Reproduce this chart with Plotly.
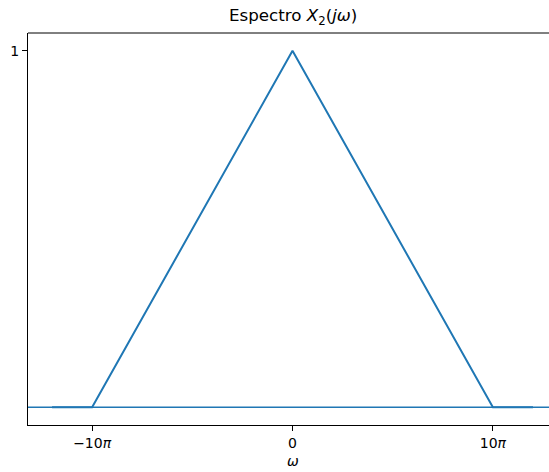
import numpy as np
import plotly.graph_objects as go

PI = np.pi
omega = [-12 * PI, -10 * PI, 0, 10 * PI, 12 * PI]
spectrum = [0, 0, 1, 0, 0]
xtick_vals = [-10 * PI, 0, 10 * PI]
xtick_text = ["\u221210<i>\u03c0</i>", "0", "10<i>\u03c0</i>"]
ytick_vals = [1]
ytick_text = ["1"]

W, H = 549, 472
L, R, T, B = 28, 0, 33, 47

fig = go.Figure()
fig.add_trace(go.Scatter(x=omega, y=spectrum, mode="lines",
                         line=dict(color="#1f77b4", width=2), showlegend=False,
                         hoverinfo="skip"))

# axhline at y=0
fig.add_shape(type="line", xref="paper", yref="y", x0=0, x1=1, y0=0, y1=0,
              line=dict(color="#1f77b4", width=1.5))
# top spine
fig.add_shape(type="line", xref="paper", yref="paper", x0=0, x1=1, y0=1, y1=1,
              line=dict(color="black", width=1))

font = "DejaVu Sans, sans-serif"
fig.update_layout(
    width=W, height=H,
    margin=dict(l=L, r=R, t=T, b=B, pad=0, autoexpand=False),
    plot_bgcolor="white", paper_bgcolor="white",
    font=dict(family=font, size=14, color="black"),
    xaxis=dict(range=[-13.2 * PI, 12.8 * PI], tickvals=xtick_vals, ticktext=xtick_text,
               showgrid=False, zeroline=False, showline=True, linecolor="black",
               linewidth=1, ticks="outside", ticklen=5, tickwidth=1, tickcolor="black",
               automargin=False),
    yaxis=dict(range=[-0.05, 1.05], tickvals=ytick_vals, ticktext=ytick_text,
               showgrid=False, zeroline=False, showline=True, linecolor="black",
               linewidth=1, ticks="outside", ticklen=5, tickwidth=1, tickcolor="black",
               automargin=False),
)
fig.add_annotation(x=0, xref="x", y=1, yref="paper", yshift=3, yanchor="bottom",
                   text="Espectro <i>X</i><sub>2</sub>(<i>j\u03c9</i>)",
                   showarrow=False, font=dict(family=font, size=16.7, color="black"))
fig.add_annotation(x=0, xref="x", y=0, yref="paper", yshift=-26, yanchor="top",
                   text="<i>\u03c9</i>",
                   showarrow=False, font=dict(family=font, size=14, color="black"))

fig.write_html("out.html", config={"displayModeBar": False},
               post_script="document.body.style.margin='0';")
